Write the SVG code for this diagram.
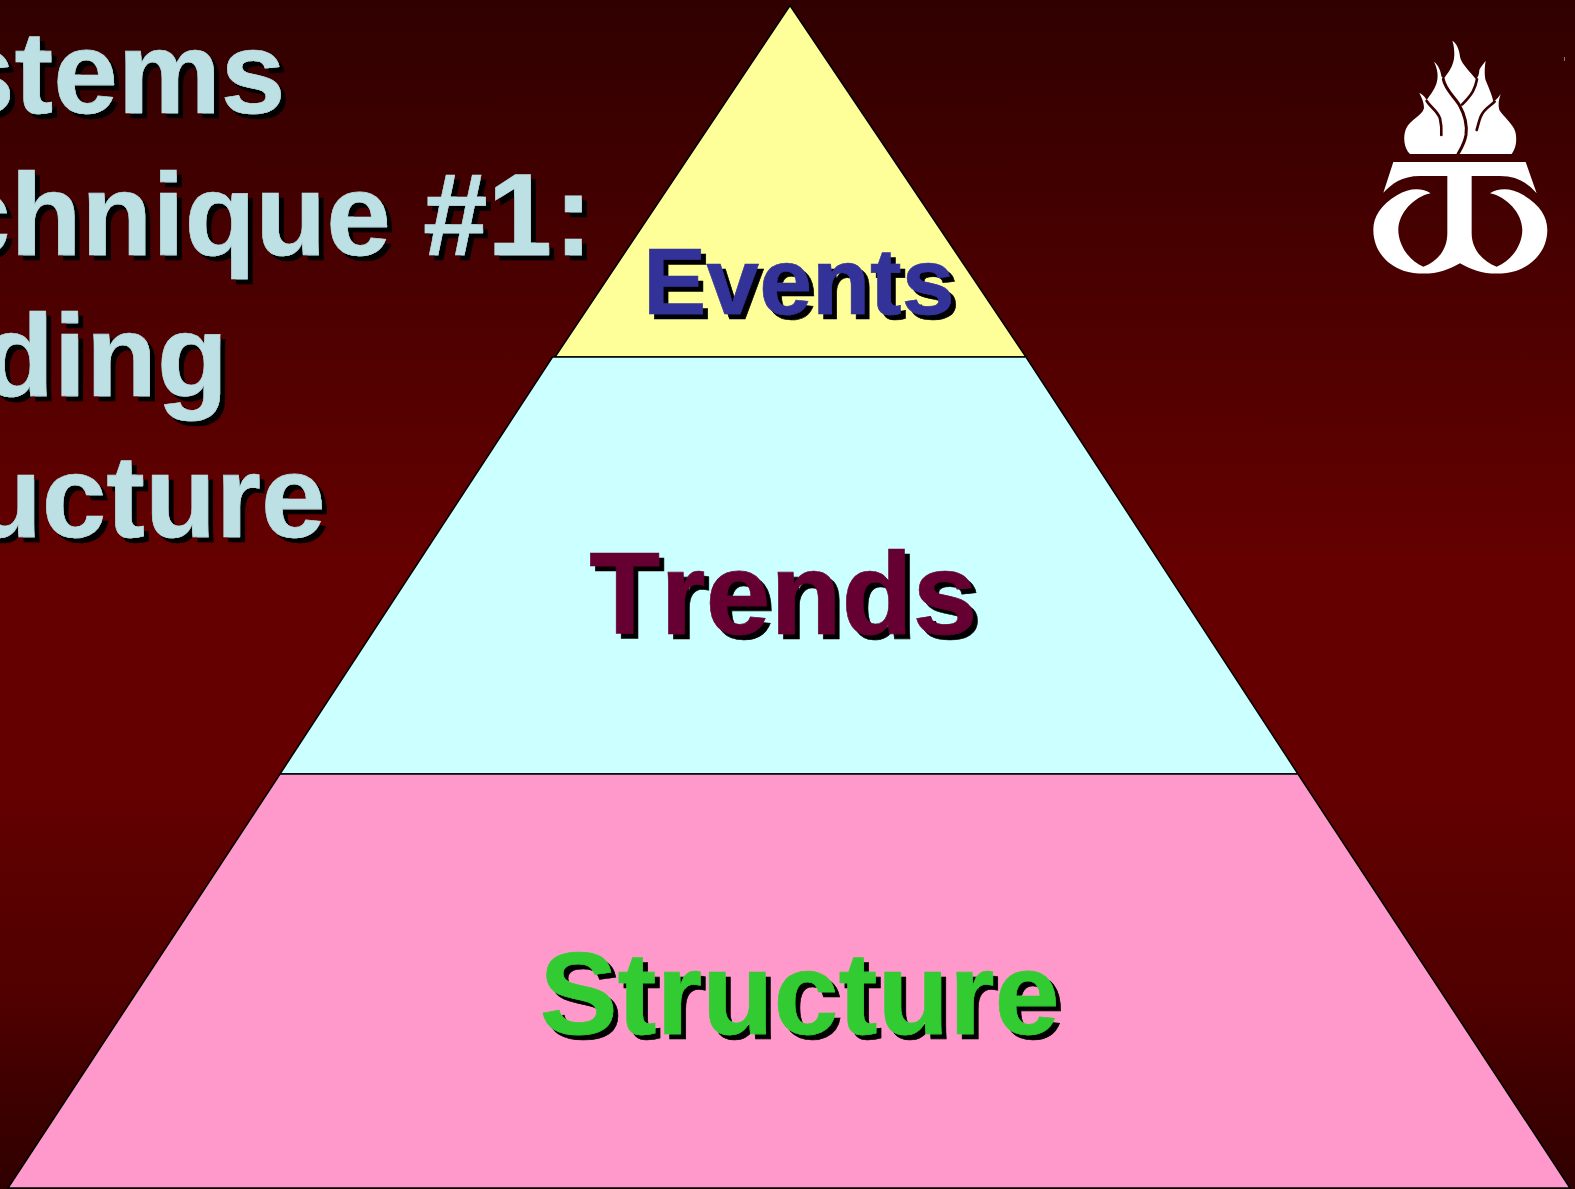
<svg xmlns="http://www.w3.org/2000/svg" width="1575" height="1189" viewBox="0 0 1575 1189">
<style>
text{font-family:"Liberation Sans",Arial,sans-serif;font-weight:700;filter:url(#shadow);font-kerning:none;stroke-width:.6}
.title{font-size:116px;fill:#BCE0E4;stroke:#BCE0E4}
.tier{stroke:#000;stroke-width:1.5}
.vein{fill:none;stroke:#3A0000;stroke-linecap:round}
</style>
<defs>
<linearGradient id="bg" x1="0" y1="0" x2="0" y2="1">
<stop offset="0" stop-color="#300000"/><stop offset="0.47" stop-color="#640000"/><stop offset="0.66" stop-color="#640000"/><stop offset="0.76" stop-color="#580000"/><stop offset="0.84" stop-color="#500000"/><stop offset="0.91" stop-color="#400000"/><stop offset="1" stop-color="#300000"/>
</linearGradient>
<filter id="shadow" x="-5%" y="-5%" width="110%" height="115%">
<feOffset in="SourceAlpha" dx="5" dy="5" result="o"/>
<feMerge><feMergeNode in="o"/><feMergeNode in="SourceGraphic"/></feMerge>
</filter>
</defs>
<rect id="background" width="1575" height="1189" fill="url(#bg)"/>
<g id="title">
<text class="title" x="-50" y="113">stems</text>
<text class="title" x="-54" y="255">chnique #1<tspan dx="2">:</tspan></text>
<text class="title" x="-17" y="396">ding</text>
<text class="title" x="-29" y="537">ucture</text>
</g>
<g id="tier-events">
<polygon class="tier" points="790,5.5 1026,357 555,357" fill="#FFFF99"/>
<text x="643" y="314" font-size="95" fill="#333399" stroke="#333399">Events</text>
</g>
<g id="tier-trends">
<polygon class="tier" points="552.5,357 1026,357 1298,774 280,774" fill="#CCFFFF"/>
<text x="589" y="634" font-size="116.5" fill="#660033" stroke="#660033">Trends</text>
</g>
<g id="tier-structure">
<polygon class="tier" points="280,774 1298,774 1570,1188 8,1188" fill="#FF99CC"/>
<text x="539.5" y="1034" font-size="117" fill="#33CC33" stroke="#33CC33">Structure</text>
</g>
<g id="logo" transform="translate(1340 20) scale(.3333)">
<path fill="#fff" d="M210,402C192,385 188,350 198,326C212,298 246,288 252,265C252,245 244,232 238,218C250,225 256,232 260,240C268,228 282,212 289,192C297,168 292,145 282,125C295,135 302,152 304,168C306,172 308,174 312,176C322,160 342,140 343,105C343,90 342,76 337,62C352,72 358,90 361,115C368,135 392,158 408,178C414,172 418,162 418,150C422,140 430,132 437,122C434,140 433,160 436,178C442,195 456,222 460,245C470,238 476,232 482,222C476,240 474,255 478,270C490,290 518,310 526,335C532,360 528,385 515,402Z"/>
<path class="vein" stroke-width="9" d="M310,178C316,210 342,228 358,255C372,280 382,315 378,345C374,370 362,388 354,402"/>
<path class="vein" stroke-width="8" d="M411,178C406,205 398,222 366,254"/>
<path class="vein" stroke-width="8" d="M260,243C272,262 292,272 300,295C304,312 305,330 304,345"/>
<path class="vein" stroke-width="8" d="M464,245C452,258 432,265 422,290C416,305 414,318 410,330"/>
<path fill="#fff" d="M160,426L557,426L590,520C565,492 535,468 480,468L395,468L395,640C395,690 430,725 470,740C520,720 547,670 547,630C547,580 500,530 450,520C475,503 515,503 550,525C600,555 622,590 622,630C622,690 580,735 530,752C490,764 445,763 410,752C390,746 375,738 360,730C345,738 330,746 310,752C275,763 230,764 190,752C140,735 100,690 100,630C100,590 122,555 172,525C207,503 247,503 272,520C222,530 175,580 175,630C175,670 202,720 250,740C292,725 322,690 322,640L322,468L240,468C185,468 155,492 130,518Z"/>
</g>
<rect id="speck" x="1564" y="57" width="1" height="4" fill="#fff" opacity=".45"/>
</svg>
